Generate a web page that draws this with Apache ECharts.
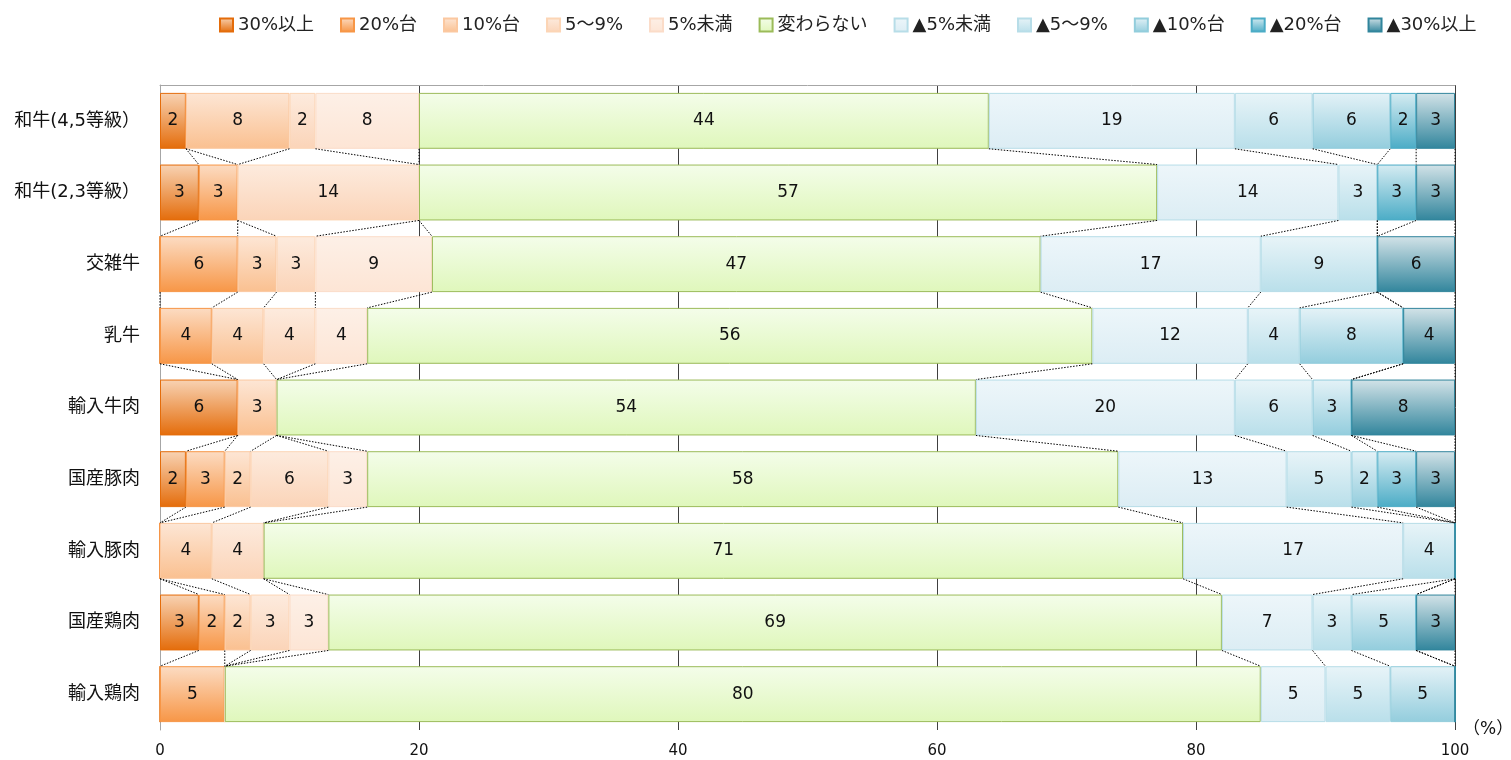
<!DOCTYPE html>
<html>
<head>
  <meta charset="utf-8">
  <title>echarts</title>
  <script src="https://cdn.jsdelivr.net/npm/echarts@6/dist/echarts.min.js"></script>
  <style type="text/css">
    body {
      margin: 0;
      padding: 0;
    }
    #main {
      width: 1511px;
      height: 760px;
    }
  </style>
</head>
<body>
<div id="main"></div>
<script>
  // カテゴリ（上から順）
  var categories = ['和牛(4,5等級）', '和牛(2,3等級）', '交雑牛', '乳牛', '輸入牛肉', '国産豚肉', '輸入豚肉', '国産鶏肉', '輸入鶏肉'];
  var seriesNames = ['30%以上', '20%台', '10%台', '5～9%', '5%未満', '変わらない', '▲5%未満', '▲5～9%', '▲10%台', '▲20%台', '▲30%以上'];

  var up30 = [2, 3, 0, 0, 6, 2, 0, 3, 0];
  var up20 = [0, 3, 6, 4, 0, 3, 0, 2, 5];
  var up10 = [8, 0, 3, 4, 3, 2, 4, 2, 0];
  var up5to9 = [2, 14, 3, 4, 0, 6, 4, 3, 0];
  var upUnder5 = [8, 0, 9, 4, 0, 3, 0, 3, 0];
  var same = [44, 57, 47, 56, 54, 58, 71, 69, 80];
  var downUnder5 = [19, 14, 17, 12, 20, 13, 17, 7, 5];
  var down5to9 = [6, 3, 9, 4, 6, 5, 4, 3, 5];
  var down10 = [6, 0, 0, 8, 3, 2, 0, 5, 5];
  var down20 = [2, 3, 0, 0, 0, 3, 0, 0, 0];
  var down30 = [3, 3, 6, 4, 8, 3, 0, 3, 0];

  var xTicks = [0, 20, 40, 60, 80, 100];

  var allData = [up30, up20, up10, up5to9, upUnder5, same, downUnder5, down5to9, down10, down20, down30];

  // 色（上, 下, 枠）
  var colorSet = [
    ['#f8d3b4', '#e46c0a', '#e46c0a'],
    ['#fcdcc3', '#f79646', '#f79646'],
    ['#fde6d5', '#fac090', '#fbc8a0'],
    ['#fdebde', '#fbd4b8', '#fcd5b5'],
    ['#fdf0e7', '#fde5d5', '#fbdcc8'],
    ['#f4fdea', '#dff7bb', '#9bbb59'],
    ['#edf6fa', '#dcedf4', '#b7dde8'],
    ['#e8f4f8', '#b9dfea', '#b7dde8'],
    ['#e4f2f7', '#93cddd', '#92cddc'],
    ['#d6ecf2', '#4bacc6', '#4bacc6'],
    ['#d3e3e8', '#31859c', '#31859c']
  ];

  var barGap = 0.22;
  var fontFamily = '"DejaVu Sans", "Noto Sans CJK JP", sans-serif';

  // 各カテゴリの累積値（区切り線用）
  var cumulative = categories.map(function (c, i) {
    var sum = 0;
    return allData.map(function (arr) {
      sum += arr[i];
      return sum;
    });
  });

  var series = seriesNames.map(function (name, k) {
    return {
      name: name,
      type: 'bar',
      stack: 'total',
      barCategoryGap: (barGap * 100) + '%',
      itemStyle: {
        color: {
          type: 'linear', x: 0, y: 0, x2: 0, y2: 1,
          colorStops: [
            {offset: 0, color: colorSet[k][0]},
            {offset: 1, color: colorSet[k][1]}
          ]
        },
        borderColor: colorSet[k][2],
        borderWidth: 1
      },
      label: {
        show: true,
        color: '#111',
        fontSize: 17,
        fontFamily: fontFamily,
        formatter: function (p) {
          return p.value > 0 ? p.value : '';
        }
      },
      emphasis: {disabled: true},
      data: allData[k]
    };
  });

  // 区切り線（点線）
  series.push({
    type: 'custom',
    name: 'seriesLines',
    silent: true,
    z: 5,
    encode: {x: 0, y: 1},
    data: categories.slice(0, categories.length - 1).map(function (c, i) {
      return [0, i];
    }),
    renderItem: function (params, api) {
      var i = params.dataIndex;
      var band = api.size([0, 1])[1];
      var half = band * (1 - barGap) / 2;
      var children = [];
      for (var k = 0; k < seriesNames.length; k++) {
        var p1 = api.coord([cumulative[i][k], i]);
        var p2 = api.coord([cumulative[i + 1][k], i + 1]);
        children.push({
          type: 'line',
          shape: {x1: p1[0], y1: p1[1] + half, x2: p2[0], y2: p2[1] - half},
          style: {stroke: '#000', lineWidth: 1, lineDash: [1.5, 1.5]}
        });
      }
      return {type: 'group', children: children};
    }
  });

  var myChart = echarts.init(document.getElementById('main'));
  var option = {
    animation: false,
    textStyle: {fontFamily: fontFamily},
    legend: {
      data: seriesNames,
      left: 214,
      top: 11,
      itemWidth: 13,
      itemHeight: 13,
      itemGap: 26,
      icon: 'rect',
      textStyle: {
        fontSize: 18,
        color: '#222',
        fontFamily: fontFamily
      }
    },
    grid: {
      left: 160,
      right: 56,
      top: 85,
      bottom: 30,
      outerBoundsMode: 'none'
    },
    xAxis: [{
      type: 'value',
      min: xTicks[0],
      max: xTicks[xTicks.length - 1],
      interval: 20,
      name: '（%）',
      nameLocation: 'end',
      nameGap: 8,
      nameTextStyle: {fontSize: 17, color: '#111', fontFamily: fontFamily},
      axisLine: {show: false},
      axisTick: {show: false},
      axisLabel: {fontSize: 15, color: '#111', margin: 14},
      splitLine: {
        show: true,
        lineStyle: {
          color: ['#a6a6a6', '#404040', '#404040', '#404040', '#404040', '#404040'],
          width: 1
        }
      }
    }, {
      type: 'value',
      position: 'top',
      min: xTicks[0],
      max: xTicks[xTicks.length - 1],
      axisLine: {show: true, lineStyle: {color: '#a6a6a6', width: 1}},
      axisTick: {show: false},
      axisLabel: {show: false},
      splitLine: {show: false}
    }],
    yAxis: {
      type: 'category',
      inverse: true,
      data: categories,
      axisLine: {show: true, lineStyle: {color: '#a6a6a6', width: 1}},
      axisTick: {show: false},
      axisLabel: {fontSize: 18, color: '#111', margin: 20}
    },
    series: series
  };
  myChart.setOption(option);
</script>
</body>
</html>
